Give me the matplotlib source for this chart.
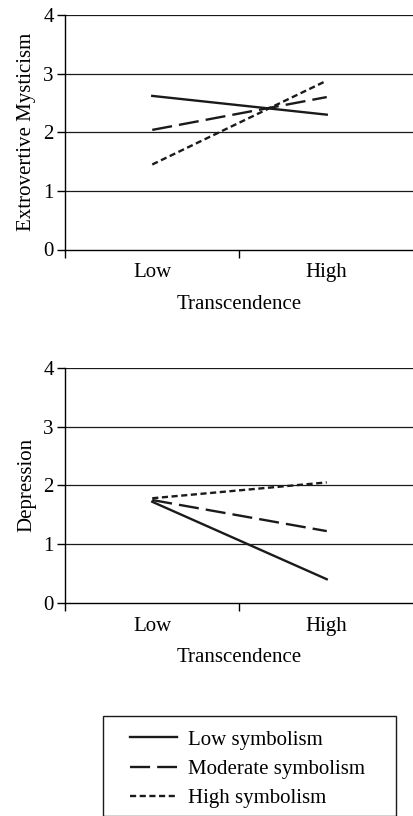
import matplotlib
matplotlib.use("Agg")
import matplotlib.pyplot as plt
from matplotlib.lines import Line2D
from matplotlib.patches import Rectangle

categories = ["Low", "High"]
series_names = ["Low symbolism", "Moderate symbolism", "High symbolism"]
mysticism = {
    "Low symbolism": [2.62, 2.30],
    "Moderate symbolism": [2.04, 2.60],
    "High symbolism": [1.45, 2.88],
}
depression = {
    "Low symbolism": [1.72, 0.40],
    "Moderate symbolism": [1.75, 1.22],
    "High symbolism": [1.78, 2.05],
}
yticks = [0, 1, 2, 3, 4]

plt.rcParams['font.family'] = ['Liberation Serif', 'DejaVu Serif']
FS = 15
W, H = 414, 816
styles = {
    "Low symbolism": dict(linestyle='-'),
    "Moderate symbolism": dict(linestyle=(0, (8.5, 3.0))),
    "High symbolism": dict(linestyle=(0, (2.6, 1.5))),
}

fig = plt.figure(figsize=(W/100, H/100), dpi=100)
ax1 = fig.add_axes([65/W, 1-249.5/H, 1-65/W, 234.5/H])
ax2 = fig.add_axes([65/W, 1-602.7/H, 1-65/W, 234.7/H])

xpos = [0.5, 1.5]
for ax, data, ylabel in [(ax1, mysticism, "Extrovertive Mysticism"), (ax2, depression, "Depression")]:
    for name in series_names:
        ax.plot(xpos, data[name], color='#1a1a1a', linewidth=1.7, **styles[name])
    ax.set_xlim(0, 2)
    ax.set_ylim(0, 4)
    ax.set_yticks(yticks)
    ax.set_xticks([0, 1, 2])
    ax.set_xticklabels([])
    ax.set_xticks(xpos, minor=True)
    ax.set_xticklabels(categories, minor=True)
    ax.tick_params(axis='x', which='minor', length=0, labelsize=FS, pad=10)
    ax.tick_params(axis='x', which='major', length=6, width=1, direction='out')
    ax.tick_params(axis='y', length=6, width=1, direction='out', labelsize=FS, pad=2)
    for y in yticks[1:]:
        ax.axhline(y, color='#1a1a1a', linewidth=0.9, zorder=0)
    for s in ['top', 'right']:
        ax.spines[s].set_visible(False)
    ax.spines['left'].set_linewidth(1)
    ax.spines['bottom'].set_linewidth(1)
    ax.set_xlabel("Transcendence", fontsize=FS, labelpad=9)
    ax.set_ylabel(ylabel, fontsize=FS, labelpad=5)

# legend frame (extends past the bottom edge of the figure)
fig.add_artist(Rectangle((103/W, 0), (396-103)/W, 1-716/H, transform=fig.transFigure,
                         fill=False, edgecolor='#1a1a1a', linewidth=1, clip_on=False))
handles = [Line2D([], [], color='#1a1a1a', linewidth=1.7, **styles[n]) for n in series_names]
leg = fig.legend(handles, series_names, loc='upper left',
                 bbox_to_anchor=(130/W, 1-730/H), fontsize=FS,
                 frameon=False, handlelength=2.25, borderpad=0, labelspacing=0.47,
                 handletextpad=0.55, borderaxespad=0)
fig.savefig("out.png", dpi=100)
